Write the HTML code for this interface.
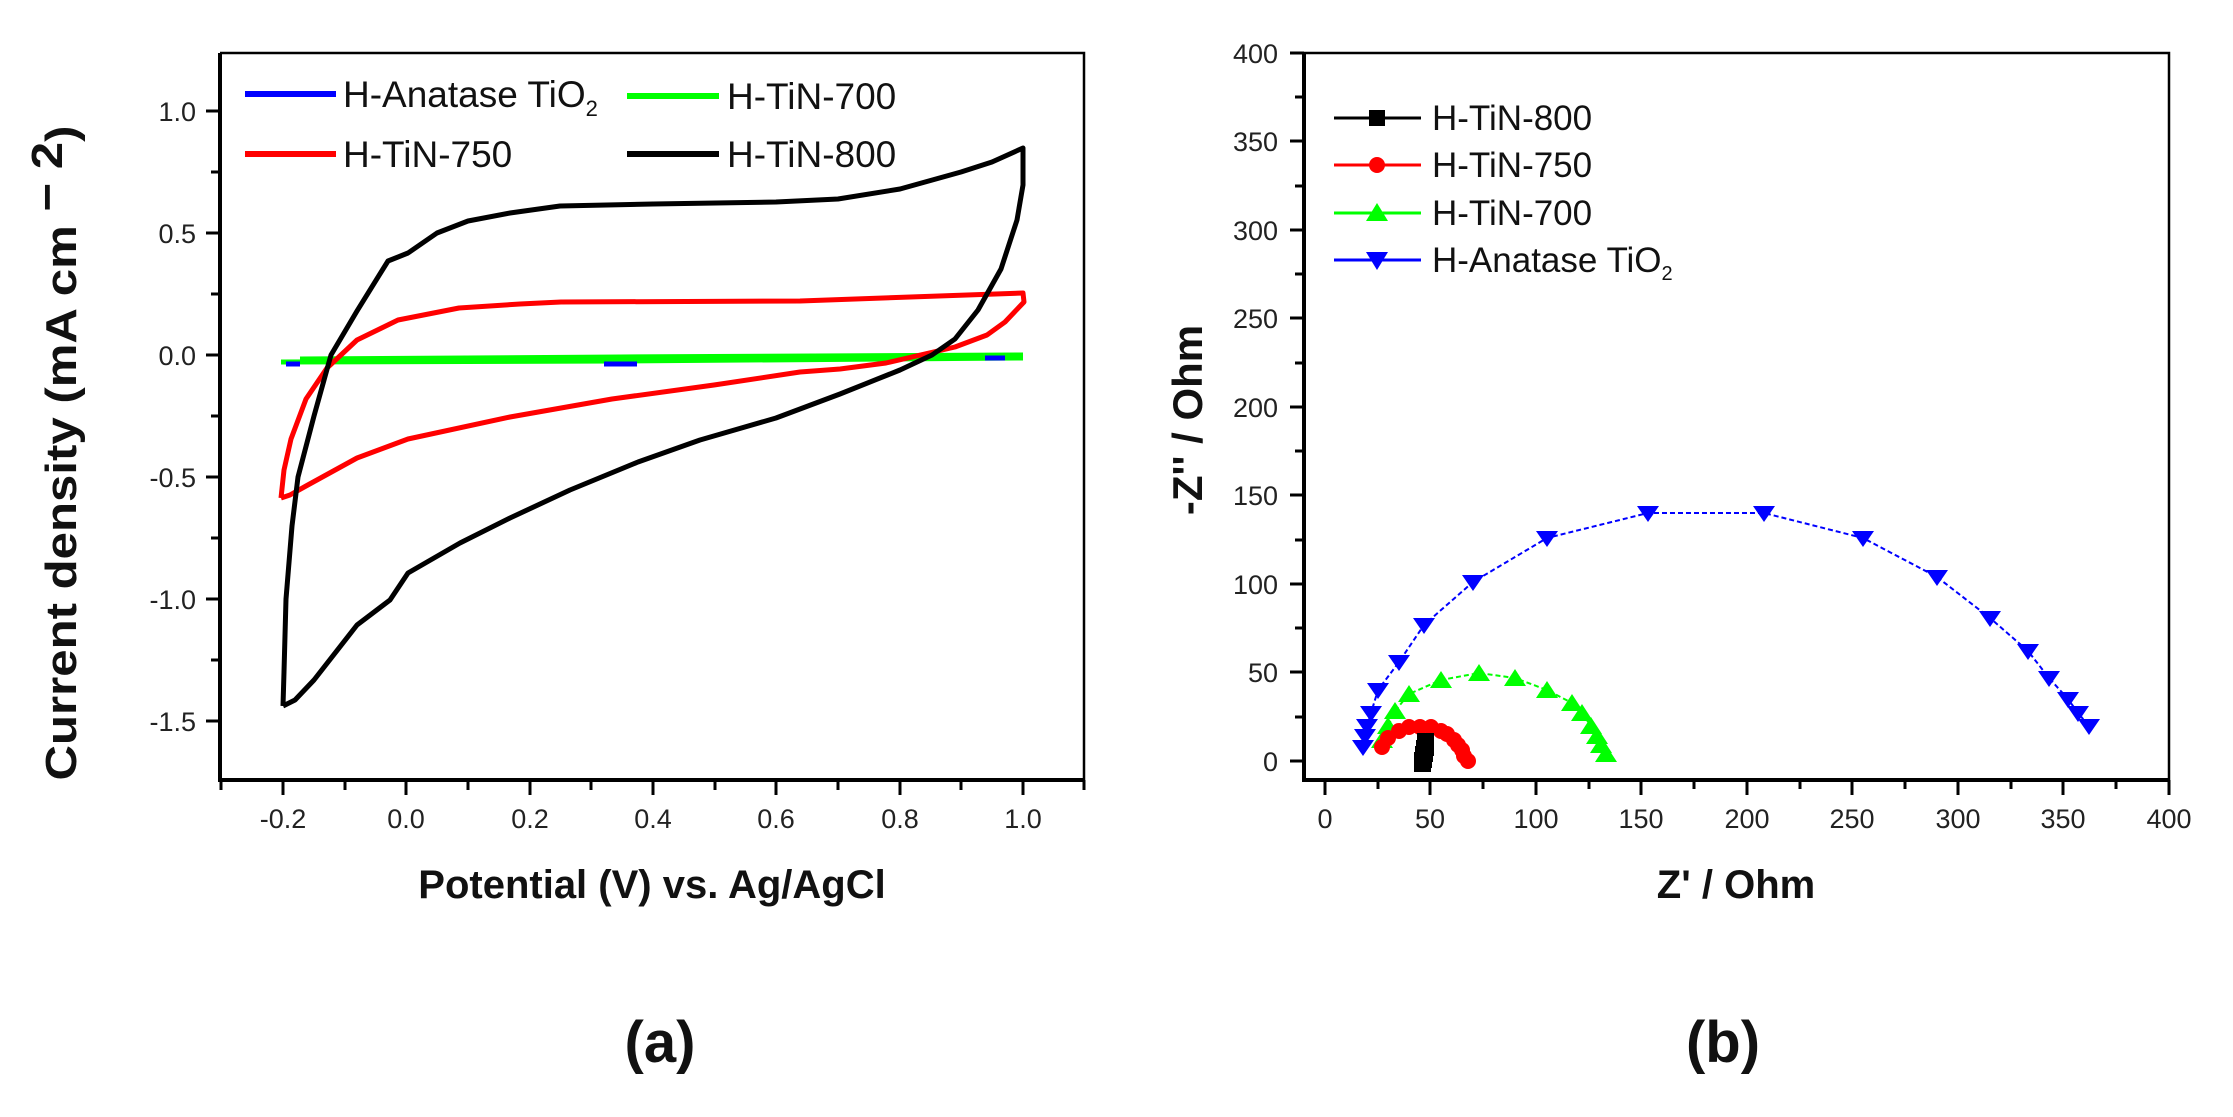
<!DOCTYPE html>
<html><head><meta charset="utf-8"><style>
html,body{margin:0;padding:0;background:#fff;}
svg{display:block;font-family:"Liberation Sans",Arial,sans-serif;}
</style></head><body>
<svg width="2233" height="1117" viewBox="0 0 2233 1117" xmlns="http://www.w3.org/2000/svg">
<rect width="2233" height="1117" fill="#fff"/>

<!-- ===== LEFT PLOT (a) ===== -->
<g stroke="#000" fill="none">
  <path d="M220,53 H1084 V780" stroke-width="2.5"/>
  <path d="M220,53 V780 H1084" stroke-width="4"/>
  <path d="M220,111H206M220,233H206M220,355H206M220,477H206M220,599H206M220,721H206" stroke-width="3"/>
  <path d="M220,172H211M220,294H211M220,416H211M220,538H211M220,660H211" stroke-width="3"/>
  <path d="M283,780V795M406,780V795M530,780V795M653,780V795M776,780V795M900,780V795M1023,780V795" stroke-width="3"/>
  <path d="M221,780V790M345,780V790M468,780V790M591,780V790M715,780V790M838,780V790M961,780V790M1084,780V790" stroke-width="3"/>
</g>
<g font-size="27" fill="#222" text-anchor="end">
  <text x="196" y="121">1.0</text>
  <text x="196" y="243">0.5</text>
  <text x="196" y="365">0.0</text>
  <text x="196" y="487">-0.5</text>
  <text x="196" y="609">-1.0</text>
  <text x="196" y="731">-1.5</text>
</g>
<g font-size="27" fill="#222" text-anchor="middle">
  <text x="283" y="828">-0.2</text>
  <text x="406" y="828">0.0</text>
  <text x="530" y="828">0.2</text>
  <text x="653" y="828">0.4</text>
  <text x="776" y="828">0.6</text>
  <text x="900" y="828">0.8</text>
  <text x="1023" y="828">1.0</text>
</g>
<text x="652" y="898" font-size="40" font-weight="bold" text-anchor="middle" fill="#111">Potential (V) vs. Ag/AgCl</text>
<text x="660" y="1062" font-size="58" font-weight="bold" text-anchor="middle" fill="#111">(a)</text>
<text transform="translate(76,453) rotate(-90)" font-size="44" font-weight="bold" text-anchor="middle" fill="#111" textLength="655" lengthAdjust="spacingAndGlyphs">Current density (mA cm<tspan dy="-14"> − 2</tspan><tspan dy="14">)</tspan></text>

<g stroke-width="6">
  <line x1="245" y1="94" x2="336" y2="94" stroke="#0000ff"/>
  <line x1="245" y1="154" x2="336" y2="154" stroke="#ff0000"/>
  <line x1="627" y1="96" x2="719" y2="96" stroke="#00ff00"/>
  <line x1="627" y1="154" x2="719" y2="154" stroke="#000"/>
</g>
<g font-size="37" fill="#111">
  <text x="343" y="107">H-Anatase TiO<tspan font-size="22" dy="9">2</tspan></text>
  <text x="343" y="167">H-TiN-750</text>
  <text x="727" y="109">H-TiN-700</text>
  <text x="727" y="167">H-TiN-800</text>
</g>

<g fill="none" stroke-width="5">
  <polyline points="281,362 620,361 1023,358" stroke="#00ff00"/>
  <polyline points="300,359 620,357 1023,355" stroke="#00ff00"/>
  <line x1="286" y1="364" x2="300" y2="364" stroke="#0000ff"/>
  <line x1="604" y1="364" x2="637" y2="364" stroke="#0000ff"/>
  <line x1="985" y1="358" x2="1005" y2="358" stroke="#0000ff"/>
</g>
<polyline fill="none" stroke="#ff0000" stroke-width="5" stroke-linejoin="round"
 points="281,498 284,470 291,439 306,399 327,368 357,340 398,320 459,308 520,304 561,302 800,301 1023,293 1024,302 1005,322 987,335 955,347 886,363 840,369 800,372 714,385 612,399 510,417 408,439 357,458 306,486 290,495 281,498"/>
<polyline fill="none" stroke="#000" stroke-width="5" stroke-linejoin="round"
 points="283,706 284,672 286,599 292,526 298,477 314,416 331,355 357,311 388,261 408,253 437,233 468,221 510,213 560,206 653,204 776,202 838,199 900,189 961,172 992,162 1023,148 1023,185 1017,220 1001,269 978,310 955,339 932,355 900,370 840,394 776,418 700,440 638,462 570,490 510,518 460,543 408,573 390,600 357,625 314,680 295,700 283,706"/>

<!-- ===== RIGHT PLOT (b) ===== -->
<g stroke="#000" fill="none">
  <path d="M1304,53 H2169 V780" stroke-width="2.5"/>
  <path d="M1304,53 V780 H2169" stroke-width="4"/>
  <path d="M1304,761H1290M1304,672H1290M1304,584H1290M1304,495H1290M1304,407H1290M1304,318H1290M1304,230H1290M1304,141H1290M1304,53H1290" stroke-width="3"/>
  <path d="M1304,717H1295M1304,628H1295M1304,540H1295M1304,451H1295M1304,363H1295M1304,274H1295M1304,186H1295M1304,97H1295" stroke-width="3"/>
  <path d="M1325,780V795M1430,780V795M1536,780V795M1641,780V795M1747,780V795M1852,780V795M1958,780V795M2063,780V795M2169,780V795" stroke-width="3"/>
  <path d="M1378,780V789M1483,780V789M1589,780V789M1694,780V789M1800,780V789M1905,780V789M2011,780V789M2116,780V789" stroke-width="3"/>
</g>
<g font-size="27" fill="#222" text-anchor="end">
  <text x="1278" y="771">0</text>
  <text x="1278" y="682">50</text>
  <text x="1278" y="594">100</text>
  <text x="1278" y="505">150</text>
  <text x="1278" y="417">200</text>
  <text x="1278" y="328">250</text>
  <text x="1278" y="240">300</text>
  <text x="1278" y="151">350</text>
  <text x="1278" y="63">400</text>
</g>
<g font-size="27" fill="#222" text-anchor="middle">
  <text x="1325" y="828">0</text>
  <text x="1430" y="828">50</text>
  <text x="1536" y="828">100</text>
  <text x="1641" y="828">150</text>
  <text x="1747" y="828">200</text>
  <text x="1852" y="828">250</text>
  <text x="1958" y="828">300</text>
  <text x="2063" y="828">350</text>
  <text x="2169" y="828">400</text>
</g>
<text x="1736" y="898" font-size="40" font-weight="bold" text-anchor="middle" fill="#111">Z' / Ohm</text>
<text x="1723" y="1062" font-size="58" font-weight="bold" text-anchor="middle" fill="#111">(b)</text>
<text transform="translate(1202,420) rotate(-90)" font-size="42" font-weight="bold" text-anchor="middle" fill="#111">-Z'' / Ohm</text>

<g stroke-width="3">
  <line x1="1334" y1="118" x2="1421" y2="118" stroke="#000"/>
  <line x1="1334" y1="165" x2="1421" y2="165" stroke="#ff0000"/>
  <line x1="1334" y1="213" x2="1421" y2="213" stroke="#00ff00"/>
  <line x1="1334" y1="260" x2="1421" y2="260" stroke="#0000ff"/>
</g>
<rect x="1369" y="110" width="16" height="16" fill="#000"/>
<circle cx="1377" cy="165" r="8" fill="#ff0000"/>
<polygon points="1366,221 1388,221 1377,203" fill="#00ff00"/>
<polygon points="1366,252 1388,252 1377,270" fill="#0000ff"/>
<g font-size="35" fill="#111">
  <text x="1432" y="130">H-TiN-800</text>
  <text x="1432" y="177">H-TiN-750</text>
  <text x="1432" y="225">H-TiN-700</text>
  <text x="1432" y="272">H-Anatase TiO<tspan font-size="20" dy="8">2</tspan></text>
</g>

<polyline fill="none" stroke="#0000ff" stroke-width="2" stroke-dasharray="5,3"
 points="1363,747 1365,736 1367,726 1371,713 1378,690 1399,662 1424,625 1473,582 1547,538 1648,513 1764,513 1863,538 1937,577 1990,618 2028,651 2049,678 2068,699 2078,713 2089,726"/>
<g fill="#0000ff">
<polygon points="1352,740 1374,740 1363,756"/>
<polygon points="1354,729 1376,729 1365,745"/>
<polygon points="1356,719 1378,719 1367,735"/>
<polygon points="1360,706 1382,706 1371,722"/>
<polygon points="1367,683 1389,683 1378,699"/>
<polygon points="1388,655 1410,655 1399,671"/>
<polygon points="1413,618 1435,618 1424,634"/>
<polygon points="1462,575 1484,575 1473,591"/>
<polygon points="1536,531 1558,531 1547,547"/>
<polygon points="1637,506 1659,506 1648,522"/>
<polygon points="1753,506 1775,506 1764,522"/>
<polygon points="1852,531 1874,531 1863,547"/>
<polygon points="1926,570 1948,570 1937,586"/>
<polygon points="1979,611 2001,611 1990,627"/>
<polygon points="2017,644 2039,644 2028,660"/>
<polygon points="2038,671 2060,671 2049,687"/>
<polygon points="2057,692 2079,692 2068,708"/>
<polygon points="2067,706 2089,706 2078,722"/>
<polygon points="2078,719 2100,719 2089,735"/>
</g>
<polyline fill="none" stroke="#00ff00" stroke-width="2" stroke-dasharray="5,3"
 points="1382,740 1388,726 1395,711 1409,694 1441,680 1479,673 1515,678 1547,690 1572,703 1582,713 1591,726 1597,736 1601,745 1606,754"/>
<g fill="#00ff00">
<polygon points="1371,748 1393,748 1382,731"/>
<polygon points="1377,734 1399,734 1388,717"/>
<polygon points="1384,719 1406,719 1395,702"/>
<polygon points="1398,702 1420,702 1409,685"/>
<polygon points="1430,688 1452,688 1441,671"/>
<polygon points="1468,681 1490,681 1479,664"/>
<polygon points="1504,686 1526,686 1515,669"/>
<polygon points="1536,698 1558,698 1547,681"/>
<polygon points="1561,711 1583,711 1572,694"/>
<polygon points="1571,721 1593,721 1582,704"/>
<polygon points="1580,734 1602,734 1591,717"/>
<polygon points="1586,744 1608,744 1597,727"/>
<polygon points="1590,753 1612,753 1601,736"/>
<polygon points="1595,762 1617,762 1606,745"/>
</g>
<polyline fill="none" stroke="#ff0000" stroke-width="2"
 points="1382,747 1388,738 1399,731 1409,727 1420,727 1431,727 1441,731 1447,734 1454,740 1458,745 1462,750 1464,756 1468,761"/>
<g fill="#ff0000">
<circle cx="1382" cy="747" r="8"/><circle cx="1388" cy="738" r="8"/><circle cx="1399" cy="731" r="8"/>
<circle cx="1409" cy="727" r="8"/><circle cx="1420" cy="727" r="8"/><circle cx="1431" cy="727" r="8"/>
<circle cx="1441" cy="731" r="8"/><circle cx="1447" cy="734" r="8"/><circle cx="1454" cy="740" r="8"/>
<circle cx="1458" cy="745" r="8"/><circle cx="1462" cy="750" r="8"/><circle cx="1464" cy="756" r="8"/>
<circle cx="1468" cy="761" r="8"/>
</g>
<g fill="#000">
<rect x="1417" y="733" width="17" height="16"/>
<rect x="1416" y="740" width="18" height="16"/>
<rect x="1415" y="746" width="18" height="16"/>
<rect x="1414" y="752" width="18" height="16"/>
<rect x="1414" y="757" width="17" height="15"/>
</g>
</svg>
</body></html>
